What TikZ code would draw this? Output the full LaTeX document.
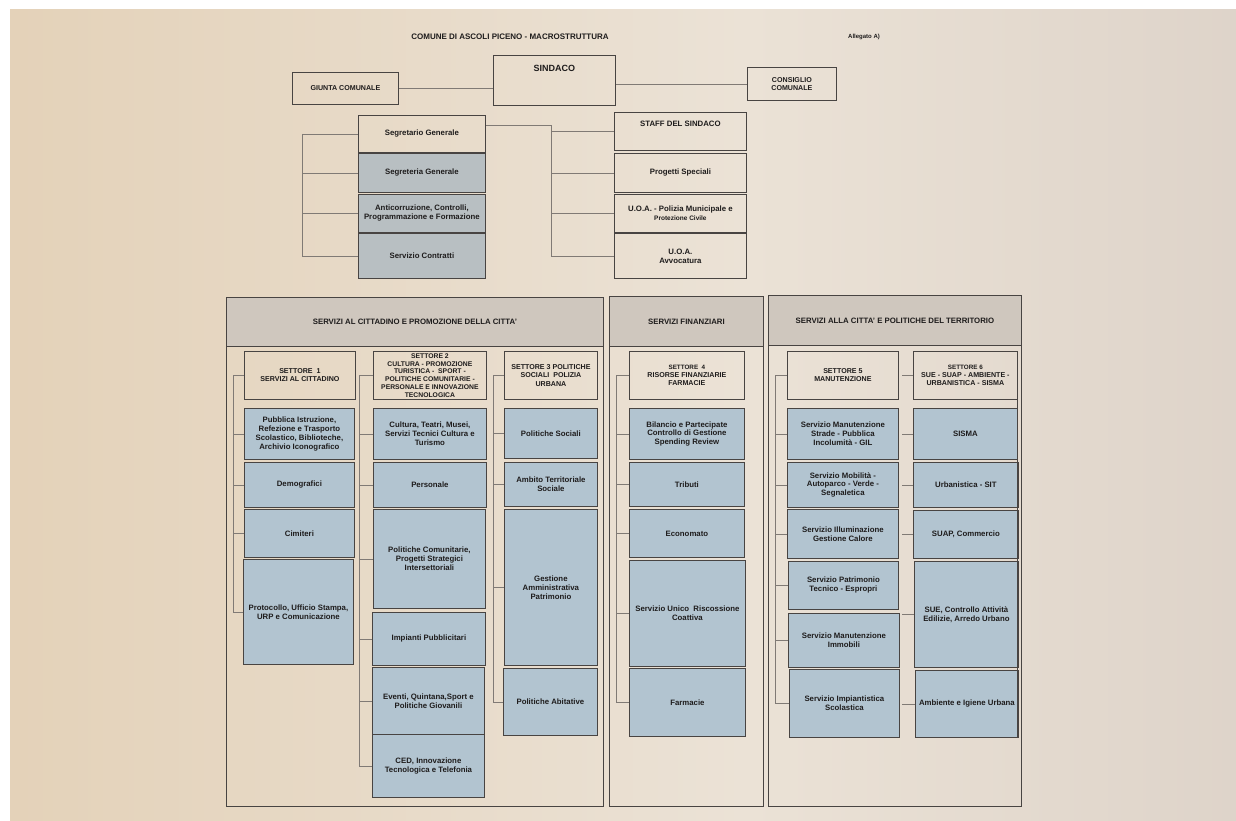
\documentclass[tikz,border=0pt]{standalone}
\usepackage{fontspec}
\setmainfont{Liberation Sans}
\usetikzlibrary{calc}
\definecolor{paperL}{RGB}{214,182,138}
\definecolor{paperA}{RGB}{226,206,178}
\definecolor{paperM}{RGB}{235,226,214}
\definecolor{paperR}{RGB}{206,194,186}
\definecolor{bluebox}{RGB}{178,196,208}
\definecolor{greybox}{RGB}{184,191,194}
\definecolor{headfill}{RGB}{207,199,190}
\definecolor{edge}{RGB}{72,68,66}
\definecolor{wirec}{RGB}{128,122,117}
\definecolor{ink}{RGB}{30,28,28}
\pgfdeclarehorizontalshading{paperbg}{100bp}{color(0bp)=(paperL); color(18bp)=(paperA); color(55bp)=(paperM); color(100bp)=(paperR)}
\newcommand{\bxnode}[7]{%
  \pgfmathsetmacro\bxw{#4-#2}\pgfmathsetmacro\bxh{#5-#3}%
  \node[#6, anchor=north west, minimum width=\bxw pt, minimum height=\bxh pt] (#1) at (#2,#3) {#7};}
\begin{document}
\begin{tikzpicture}[x=1pt,y=-1pt,
  every node/.style={font=\fontsize{7.8}{8.9}\selectfont\bfseries, text=ink},
  wbox/.style={draw=edge, line width=0.8pt, inner sep=1pt, align=center},
  bbox/.style={wbox, fill=bluebox},
  gbox/.style={wbox, fill=greybox},
  head/.style={wbox, fill=headfill},
  panel/.style={draw=edge, line width=0.9pt, inner sep=0pt},
  wire/.style={draw=wirec, line width=0.6pt},
  lbl/.style={inner sep=0pt, align=center},
  small/.style={font=\fontsize{7.1}{8.2}\selectfont\bfseries}]
\useasboundingbox (0,0) rectangle (1236,820);
\fill[white] (0,0) rectangle (1236,820);
\shade[shading=paperbg] (10,9) rectangle (1236,820);

% ---------- top ----------
\node[lbl, font=\fontsize{8}{9}\selectfont\bfseries] (title) at (510,37) {COMUNE DI ASCOLI PICENO - MACROSTRUTTURA};
\node[lbl, font=\fontsize{6}{7}\selectfont\bfseries] (alleg) at (864,37) {Allegato A)};
\bxnode{giunta}{292}{72}{398}{104}{wbox, small}{GIUNTA COMUNALE}
\bxnode{sindaco}{493}{55}{615}{105}{wbox}{}
\node[lbl, font=\fontsize{9}{10}\selectfont\bfseries] (sindacot) at ([yshift=-13pt]sindaco.north) {SINDACO};
\bxnode{consiglio}{747}{67}{836}{100}{wbox, small}{CONSIGLIO\\COMUNALE}
\draw[wire] (giunta.east) -- (giunta.east -| sindaco.west);
\draw[wire] (sindaco.east |- consiglio.west) -- (consiglio.west);

% ---------- staff area ----------
\bxnode{segretario}{358}{115}{485}{152}{wbox}{Segretario Generale}
\bxnode{segreteria}{358}{153}{485}{192}{gbox}{Segreteria Generale}
\bxnode{anticorr}{358}{194}{485}{232}{gbox}{Anticorruzione, Controlli,\\Programmazione e Formazione}
\bxnode{contratti}{358}{233}{485}{278}{gbox}{Servizio Contratti}
\bxnode{staff}{614}{112}{746}{150}{wbox}{STAFF DEL SINDACO\\[6pt]}
\bxnode{progetti}{614}{153}{746}{192}{wbox}{Progetti Speciali}
\bxnode{polizia}{614}{194}{746}{232}{wbox}{U.O.A. - Polizia Municipale e\\{\fontsize{6.5}{7.5}\selectfont Protezione Civile}}
\bxnode{avvocatura}{614}{233}{746}{278}{wbox}{U.O.A.\\Avvocatura}

\coordinate (ulv) at (302,134);
\draw[wire] (segretario.west -| ulv) -- (contratti.west -| ulv);
\foreach \n in {segretario,segreteria,anticorr,contratti}
  \draw[wire] (\n.west -| ulv) -- (\n.west);
\coordinate (umv) at (551,125);
\draw[wire] (segretario.east |- umv) -- (umv) -- (umv |- avvocatura.west);
\foreach \n in {staff,progetti,polizia,avvocatura}
  \draw[wire] (umv |- \n.west) -- (\n.west);

% ---------- panels ----------
\bxnode{b1}{226}{346}{603}{806}{panel}{}
\bxnode{h1}{226}{297}{603}{346}{head}{SERVIZI AL CITTADINO E PROMOZIONE DELLA CITTA'}
\bxnode{b2}{609}{346}{763}{806}{panel}{}
\bxnode{h2}{609}{296}{763}{346}{head}{SERVIZI FINANZIARI}
\bxnode{b3}{768}{345}{1021}{806}{panel}{}
\bxnode{h3}{768}{295}{1021}{345}{head}{SERVIZI ALLA CITTA' E POLITICHE DEL TERRITORIO}

% ---------- settori ----------
\bxnode{s1}{244}{351}{355}{399}{wbox, small}{SETTORE \ 1\\SERVIZI AL CITTADINO}
\bxnode{s2}{373}{351}{486}{399}{wbox, inner sep=0pt, font=\fontsize{6.8}{7.8}\selectfont\bfseries}{SETTORE 2\\CULTURA - PROMOZIONE\\TURISTICA - \ SPORT -\\POLITICHE COMUNITARIE -\\PERSONALE E INNOVAZIONE\\TECNOLOGICA}
\bxnode{s3}{504}{351}{597}{399}{wbox, small}{SETTORE 3 POLITICHE\\SOCIALI \ POLIZIA\\URBANA}
\bxnode{s4}{629}{351}{744}{399}{wbox, small}{{\fontsize{6.3}{7}\selectfont SETTORE \ 4}\\RISORSE FINANZIARIE\\FARMACIE}
\bxnode{s5}{787}{351}{898}{399}{wbox, small}{SETTORE 5\\MANUTENZIONE}
\bxnode{s6}{913}{351}{1017}{399}{wbox, small}{{\fontsize{6.3}{7}\selectfont SETTORE 6}\\SUE - SUAP - AMBIENTE -\\URBANISTICA - SISMA}

% ---------- column 1 ----------
\bxnode{c1a}{244}{408}{354}{459}{bbox}{Pubblica Istruzione,\\Refezione e Trasporto\\Scolastico, Biblioteche,\\Archivio Iconografico}
\bxnode{c1b}{244}{462}{354}{507}{bbox}{Demografici}
\bxnode{c1c}{244}{509}{354}{557}{bbox}{Cimiteri}
\bxnode{c1d}{243}{559}{353}{664}{bbox}{Protocollo, Ufficio Stampa,\\URP e Comunicazione}
% ---------- column 2 ----------
\bxnode{c2a}{373}{408}{486}{459}{bbox}{Cultura, Teatri, Musei,\\Servizi Tecnici Cultura e\\Turismo}
\bxnode{c2b}{373}{462}{486}{507}{bbox}{Personale}
\bxnode{c2c}{373}{509}{485}{608}{bbox}{Politiche Comunitarie,\\Progetti Strategici\\Intersettoriali}
\bxnode{c2d}{372}{612}{485}{665}{bbox}{Impianti Pubblicitari}
\bxnode{c2e}{372}{667}{484}{734}{bbox}{Eventi, Quintana,Sport e\\Politiche Giovanili}
\bxnode{c2f}{372}{734}{484}{797}{bbox}{CED, Innovazione\\Tecnologica e Telefonia}
% ---------- column 3 ----------
\bxnode{c3a}{504}{408}{597}{458}{bbox}{Politiche Sociali}
\bxnode{c3b}{504}{462}{597}{506}{bbox}{Ambito Territoriale\\Sociale}
\bxnode{c3c}{504}{509}{597}{665}{bbox}{Gestione\\Amministrativa\\Patrimonio}
\bxnode{c3d}{503}{668}{597}{735}{bbox}{Politiche Abitative}
% ---------- column 4 ----------
\bxnode{c4a}{629}{408}{744}{459}{bbox}{Bilancio e Partecipate\\Controllo di Gestione\\Spending Review}
\bxnode{c4b}{629}{462}{744}{506}{bbox}{Tributi}
\bxnode{c4c}{629}{509}{744}{557}{bbox}{Economato}
\bxnode{c4d}{629}{560}{745}{666}{bbox}{Servizio Unico \ Riscossione\\Coattiva}
\bxnode{c4e}{629}{668}{745}{736}{bbox}{Farmacie}
% ---------- column 5 ----------
\bxnode{c5a}{787}{408}{898}{459}{bbox}{Servizio Manutenzione\\Strade - Pubblica\\Incolumità - GIL}
\bxnode{c5b}{787}{462}{898}{507}{bbox}{Servizio Mobilità -\\Autoparco - Verde -\\Segnaletica}
\bxnode{c5c}{787}{509}{898}{558}{bbox}{Servizio Illuminazione\\Gestione Calore}
\bxnode{c5d}{788}{561}{898}{609}{bbox}{Servizio Patrimonio\\Tecnico - Espropri}
\bxnode{c5e}{788}{613}{899}{667}{bbox}{Servizio Manutenzione\\Immobili}
\bxnode{c5f}{789}{669}{899}{737}{bbox}{Servizio Impiantistica\\Scolastica}
% ---------- column 6 ----------
\bxnode{c6a}{913}{408}{1017}{459}{bbox}{SISMA}
\bxnode{c6b}{913}{462}{1018}{507}{bbox}{Urbanistica - SIT}
\bxnode{c6c}{913}{510}{1018}{558}{bbox}{SUAP, Commercio}
\bxnode{c6d}{914}{561}{1018}{667}{bbox}{SUE, Controllo Attività\\Edilizie, Arredo Urbano}
\bxnode{c6e}{915}{670}{1018}{737}{bbox}{Ambiente e Igiene Urbana}

% ---------- column connectors ----------
\coordinate (v1) at (233,370);
\coordinate (v2) at (359,370);
\coordinate (v3) at (493,370);
\coordinate (v4) at (616,370);
\coordinate (v5) at (775,370);
\coordinate (v6) at (902,370);
\draw[wire] (s1.west -| v1) -- (c1d.west -| v1);
\foreach \n in {s1,c1a,c1b,c1c,c1d} \draw[wire] (\n.west -| v1) -- (\n.west);
\draw[wire] (s2.west -| v2) -- (c2f.west -| v2);
\foreach \n in {s2,c2a,c2b,c2c,c2d,c2e,c2f} \draw[wire] (\n.west -| v2) -- (\n.west);
\draw[wire] (s3.west -| v3) -- (c3d.west -| v3);
\foreach \n in {s3,c3a,c3b,c3c,c3d} \draw[wire] (\n.west -| v3) -- (\n.west);
\draw[wire] (s4.west -| v4) -- (c4e.west -| v4);
\foreach \n in {s4,c4a,c4b,c4c,c4d,c4e} \draw[wire] (\n.west -| v4) -- (\n.west);
\draw[wire] (s5.west -| v5) -- (c5f.west -| v5);
\foreach \n in {s5,c5a,c5b,c5c,c5d,c5e,c5f} \draw[wire] (\n.west -| v5) -- (\n.west);
\foreach \n in {s6,c6a,c6b,c6c,c6d,c6e} \draw[wire] (\n.west -| v6) -- (\n.west);
\draw[draw=edge, line width=0.8pt] (s6.east) -- (s6.east |- c6e.south);
\end{tikzpicture}
\end{document}
